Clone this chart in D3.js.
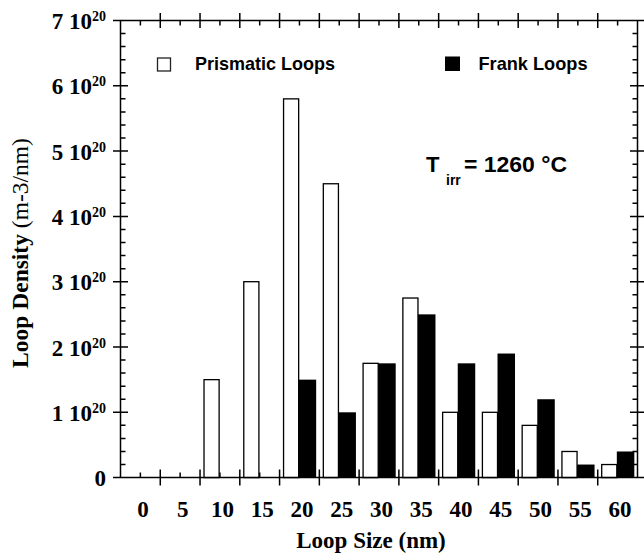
<!DOCTYPE html>
<html>
<head>
<meta charset="utf-8">
<script src="https://cdn.jsdelivr.net/npm/d3@7"></script>
<style>
  body { margin: 0; background: #fff; }
  svg { display: block; }
</style>
</head>
<body>
<div class="loopChart"></div>
<script>
// loop size bins (nm) and densities in units of 1e20 m-3/nm
const loopSizes = [10, 15, 20, 25, 30, 35, 40, 45, 50, 55, 60];
const prismatic = [1.5, 3.0, 5.8, 4.5, 1.75, 2.75, 1.0, 1.0, 0.8, 0.4, 0.2];
const frank = [0, 0, 1.5, 1.0, 1.75, 2.5, 1.75, 1.9, 1.2, 0.2, 0.4];

const xLabels = [0, 5, 10, 15, 20, 25, 30, 35, 40, 45, 50, 55, 60];
const xMajor = [2.5, 7.5, 12.5, 17.5, 22.5, 27.5, 32.5, 37.5, 42.5, 47.5, 52.5, 57.5];
const yMajor = [0, 1, 2, 3, 4, 5, 6, 7];
const yMinor = [0.2, 0.4, 0.6, 0.8, 1.2, 1.4, 1.6, 1.8, 2.2, 2.4, 2.6, 2.8, 3.2, 3.4, 3.6, 3.8,
  4.2, 4.4, 4.6, 4.8, 5.2, 5.4, 5.6, 5.8, 6.2, 6.4, 6.6, 6.8];

const W = 644, H = 556;
const plotLeft = 120.5, plotRight = 637.5, plotTop = 20.5, plotBottom = 477.6;
const serif = "'Liberation Serif', 'Times New Roman', serif";
const sans = "'Liberation Sans', Arial, Helvetica, sans-serif";

const svg = d3.select(".loopChart").append("svg")
  .attr("width", W).attr("height", H)
  .attr("viewBox", `0 0 ${W} ${H}`);

const x = d3.scaleLinear().domain([-2.5, 62.5]).range([plotLeft, plotRight]);
const y = d3.scaleLinear().domain([0, 7]).range([plotBottom, plotTop]);

const rows = loopSizes.map((s, i) => ({size: s, prismatic: prismatic[i], frank: frank[i]}));

// prismatic bars sit just left of the bin value, frank bars to the right
svg.append("g").selectAll("rect")
  .data(rows.filter(d => d.prismatic > 0))
  .join("rect")
  .attr("x", d => x(d.size - 2))
  .attr("width", d => x(d.size - 0.1) - x(d.size - 2))
  .attr("y", d => y(d.prismatic))
  .attr("height", d => y(0) - y(d.prismatic))
  .attr("fill", "#fff")
  .attr("stroke", "#000")
  .attr("stroke-width", 1.3);

svg.append("g").selectAll("rect")
  .data(rows.filter(d => d.frank > 0))
  .join("rect")
  .attr("x", d => x(d.size - 0.1))
  .attr("width", d => x(d.size + 2.1) - x(d.size - 0.1))
  .attr("y", d => y(d.frank))
  .attr("height", d => y(0) - y(d.frank))
  .attr("fill", "#000");

// frame and all tick marks in one path: major ticks cross the frame, minor ones point inward
const framePath = d3.path();
framePath.rect(plotLeft, plotTop, plotRight - plotLeft, plotBottom - plotTop);
xMajor.forEach(v => {
  framePath.moveTo(x(v), plotBottom - 8); framePath.lineTo(x(v), plotBottom + 8);
  framePath.moveTo(x(v), plotTop - 7.5); framePath.lineTo(x(v), plotTop + 7.5);
});
xLabels.forEach(v => {
  framePath.moveTo(x(v), plotBottom - 5); framePath.lineTo(x(v), plotBottom);
  framePath.moveTo(x(v), plotTop); framePath.lineTo(x(v), plotTop + 5);
});
yMajor.forEach(v => {
  framePath.moveTo(plotLeft - 7.5, y(v)); framePath.lineTo(plotLeft + 7.5, y(v));
  framePath.moveTo(plotRight - 7.5, y(v)); framePath.lineTo(plotRight + 7.5, y(v));
});
yMinor.forEach(v => {
  framePath.moveTo(plotLeft, y(v)); framePath.lineTo(plotLeft + 5, y(v));
  framePath.moveTo(plotRight - 5, y(v)); framePath.lineTo(plotRight, y(v));
});
svg.append("path")
  .attr("d", framePath.toString())
  .attr("fill", "none")
  .attr("stroke", "#000")
  .attr("stroke-width", 1.5);

// tick labels
svg.append("g").attr("transform", `translate(0,${plotBottom})`)
  .call(d3.axisBottom(x).tickValues(xLabels).tickSize(0).tickPadding(23))
  .call(g => g.select(".domain").remove())
  .call(g => g.selectAll(".tick text")
    .attr("dx", 2)
    .attr("fill", "#000")
    .style("font-family", serif)
    .style("font-weight", "bold")
    .style("font-size", "23px"));

svg.append("g").attr("transform", `translate(${plotLeft},0)`)
  .call(d3.axisLeft(y).tickValues(yMajor).tickSize(0).tickPadding(14.5))
  .call(g => g.select(".domain").remove())
  .call(g => g.selectAll(".tick text")
    .attr("dy", "8px")
    .attr("fill", "#000")
    .style("font-family", serif)
    .style("font-weight", "bold")
    .style("font-size", "23px")
    .each(function(d) {
      const t = d3.select(this).text(null);
      if (d === 0) { t.text("0"); return; }
      t.append("tspan").text(d + " 10");
      t.append("tspan").attr("dy", -8).style("font-size", "14px").text("20");
    }));

// axis titles
svg.append("text")
  .attr("x", 371).attr("y", 548)
  .attr("text-anchor", "middle")
  .style("font-family", serif).style("font-weight", "bold").style("font-size", "23px")
  .text("Loop Size (nm)");

const yTitle = svg.append("text")
  .attr("transform", "translate(28,253) rotate(-90)")
  .attr("text-anchor", "middle")
  .style("font-family", serif).style("font-weight", "bold").style("font-size", "23.5px");
yTitle.append("tspan").text("Loop Density ");
yTitle.append("tspan").style("font-weight", "normal").text("(m-3/nm)");

// legend
svg.append("rect")
  .attr("x", 157.5).attr("y", 58).attr("width", 13).attr("height", 13)
  .attr("fill", "#fff").attr("stroke", "#222").attr("stroke-width", 1.3);
svg.append("text")
  .attr("x", 195).attr("y", 70)
  .attr("textLength", 140).attr("lengthAdjust", "spacingAndGlyphs")
  .style("font-family", sans).style("font-weight", "bold").style("font-size", "18.5px")
  .text("Prismatic Loops");

svg.append("rect")
  .attr("x", 445).attr("y", 56.5).attr("width", 15).attr("height", 14.5)
  .attr("fill", "#000");
svg.append("text")
  .attr("x", 478.5).attr("y", 69.5)
  .attr("textLength", 109).attr("lengthAdjust", "spacingAndGlyphs")
  .style("font-family", sans).style("font-weight", "bold").style("font-size", "18.5px")
  .text("Frank Loops");

// irradiation temperature note
const note = svg.append("g")
  .style("font-family", sans).style("font-weight", "bold");
note.append("text").attr("x", 426).attr("y", 171.7).style("font-size", "22px").text("T");
note.append("text").attr("x", 446).attr("y", 185).style("font-size", "14px").text("irr");
note.append("text").attr("x", 464).attr("y", 171.7).style("font-size", "22px")
  .attr("textLength", 103).attr("lengthAdjust", "spacingAndGlyphs")
  .text("= 1260 °C");
</script>
</body>
</html>
